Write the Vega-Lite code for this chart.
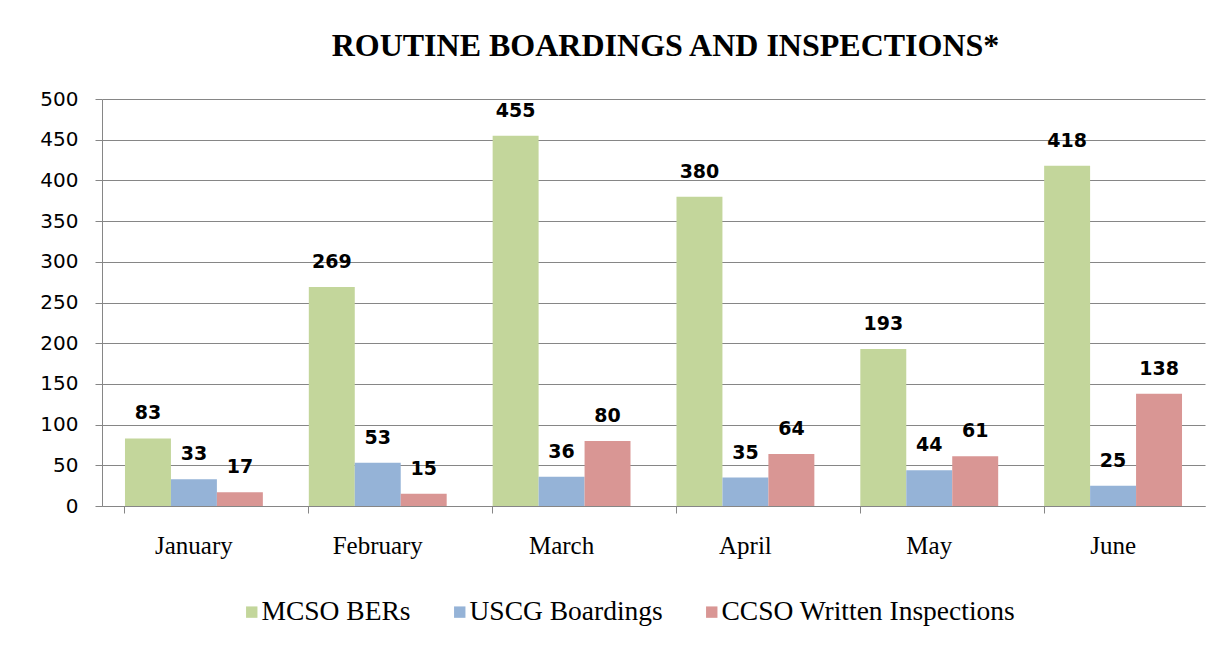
{
  "$schema": "https://vega.github.io/schema/vega-lite/v6.json",
  "width": 1103,
  "height": 407,
  "autosize": {"type": "none"},
  "padding": {"left": 102, "top": 99, "right": 25, "bottom": 139},
  "background": "white",
  "title": {
    "text": "ROUTINE BOARDINGS AND INSPECTIONS*",
    "font": "Liberation Serif",
    "fontSize": 32,
    "fontWeight": "bold",
    "color": "black",
    "anchor": "middle",
    "dx": 12,
    "offset": 26
  },
  "data": {
    "values": [
      {"month": "January", "series": "MCSO BERs", "value": 83},
      {"month": "January", "series": "USCG Boardings", "value": 33},
      {"month": "January", "series": "CCSO Written Inspections", "value": 17},
      {"month": "February", "series": "MCSO BERs", "value": 269},
      {"month": "February", "series": "USCG Boardings", "value": 53},
      {"month": "February", "series": "CCSO Written Inspections", "value": 15},
      {"month": "March", "series": "MCSO BERs", "value": 455},
      {"month": "March", "series": "USCG Boardings", "value": 36},
      {"month": "March", "series": "CCSO Written Inspections", "value": 80},
      {"month": "April", "series": "MCSO BERs", "value": 380},
      {"month": "April", "series": "USCG Boardings", "value": 35},
      {"month": "April", "series": "CCSO Written Inspections", "value": 64},
      {"month": "May", "series": "MCSO BERs", "value": 193},
      {"month": "May", "series": "USCG Boardings", "value": 44},
      {"month": "May", "series": "CCSO Written Inspections", "value": 61},
      {"month": "June", "series": "MCSO BERs", "value": 418},
      {"month": "June", "series": "USCG Boardings", "value": 25},
      {"month": "June", "series": "CCSO Written Inspections", "value": 138}
    ]
  },
  "encoding": {
    "x": {
      "field": "month",
      "type": "nominal",
      "sort": ["January", "February", "March", "April", "May", "June"],
      "scale": {"paddingInner": 0.25, "paddingOuter": 0.125},
      "axis": {
        "title": null,
        "labelAngle": 0,
        "labelFont": "Liberation Serif",
        "labelFontSize": 25,
        "labelColor": "black",
        "labelPadding": 20,
        "domainColor": "#868686",
        "tickColor": "#868686",
        "tickSize": 7,
        "bandPosition": 0,
        "grid": false
      }
    },
    "xOffset": {
      "field": "series",
      "type": "nominal",
      "scale": {"domain": ["MCSO BERs", "USCG Boardings", "CCSO Written Inspections"], "paddingInner": 0, "paddingOuter": 0}
    },
    "y": {
      "field": "value",
      "type": "quantitative",
      "scale": {"domain": [0, 500], "nice": false},
      "axis": {
        "title": null,
        "values": [0, 50, 100, 150, 200, 250, 300, 350, 400, 450, 500],
        "labelFont": "DejaVu Sans",
        "labelFontSize": 20,
        "labelColor": "black",
        "labelPadding": 17,
        "tickSize": 7,
        "tickColor": "#868686",
        "domainColor": "#868686",
        "gridColor": "#868686",
        "grid": true
      }
    }
  },
  "layer": [
    {
      "mark": {"type": "bar"},
      "encoding": {
        "color": {
          "field": "series",
          "type": "nominal",
          "scale": {
            "domain": ["MCSO BERs", "USCG Boardings", "CCSO Written Inspections"],
            "range": ["#c3d69b", "#95b3d7", "#d99694"]
          },
          "legend": {
            "title": null,
            "orient": "none",
            "direction": "horizontal",
            "legendX": 136,
            "legendY": 499,
            "symbolType": "square",
            "symbolSize": 130,
            "symbolStrokeWidth": 0,
            "labelFont": "Liberation Serif",
            "labelFontSize": 27.5,
            "labelColor": "black",
            "labelLimit": 0,
            "columnPadding": 35,
            "labelOffset": -4
          }
        }
      }
    },
    {
      "mark": {
        "type": "text",
        "baseline": "middle",
        "dy": -25,
        "font": "DejaVu Sans",
        "fontSize": 19,
        "fontWeight": "bold",
        "color": "black"
      },
      "encoding": {
        "text": {"field": "value", "type": "quantitative"}
      }
    }
  ],
  "config": {
    "view": {"stroke": null}
  }
}
